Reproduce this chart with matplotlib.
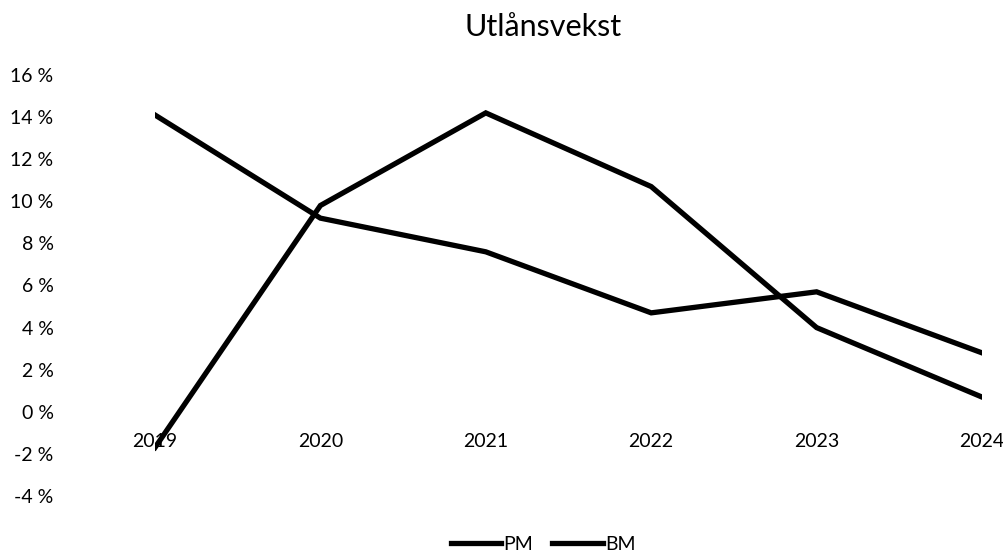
import numpy as np
import matplotlib
matplotlib.use("Agg")
import matplotlib.pyplot as plt
from matplotlib.ticker import FuncFormatter

# data (percent)
years = [2019, 2020, 2021, 2022, 2023, 2024]
pm = [14.1, 9.2, 7.6, 4.7, 5.7, 2.8]
bm = [-1.7, 9.8, 14.2, 10.7, 4.0, 0.7]
title = "Utlånsvekst"

plt.rcParams['font.family'] = ['Lato', 'DejaVu Sans']

fig = plt.figure(figsize=(10.04, 5.51), dpi=100)
ax = fig.add_axes([155 / 1004, 1 - 496 / 551, (982 - 155) / 1004, (496 - 75) / 551])

ax.plot(years, pm, color='black', lw=3.8, label='PM', solid_joinstyle='miter')
ax.plot(years, bm, color='black', lw=3.8, label='BM', solid_joinstyle='miter')

ax.set_xlim(years[0], years[-1])
ax.set_ylim(-4, 16)
ax.set_yticks(np.arange(-4, 17, 2))
ax.yaxis.set_major_formatter(FuncFormatter(lambda v, p: f"{v:.0f} %"))
ax.set_xticks(years)
ax.set_xticklabels([str(y) for y in years])

# category axis crosses at 0, no visible lines
ax.spines['bottom'].set_position(('data', 0))
for s in ax.spines.values():
    s.set_visible(False)
ax.tick_params(axis='x', length=0, pad=15, labelsize=14)
ax.tick_params(axis='y', length=0, pad=73, labelsize=14)

fig.text(543 / 1004, 1 - 27 / 551, title, ha='center', va='center', fontsize=22)

ax.legend(loc='center', bbox_to_anchor=(543 / 1004, 1 - 544 / 551),
          bbox_transform=fig.transFigure, ncol=2, frameon=False,
          fontsize=14, handlelength=2.6, handletextpad=0.1, columnspacing=1.0)

fig.savefig("out.png", dpi=100)
